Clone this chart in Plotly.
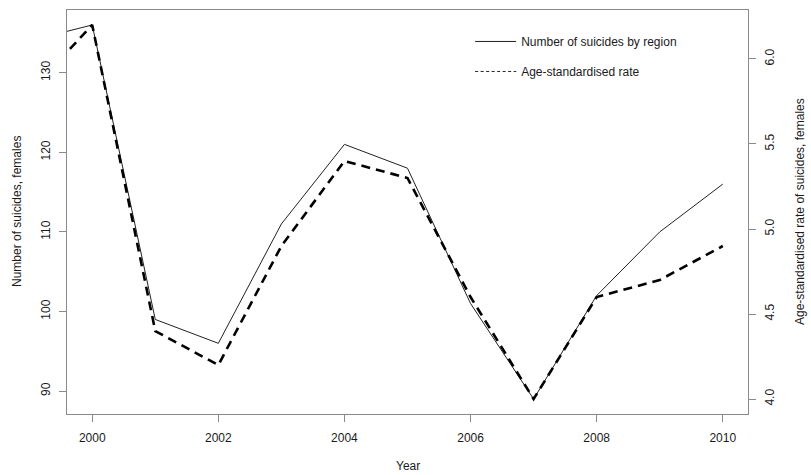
import plotly.graph_objects as go

years = [1999, 2000, 2001, 2002, 2003, 2004, 2005, 2006, 2007, 2008, 2009, 2010]
suicides = [134, 136, 99, 96, 111, 121, 118, 101, 89, 102, 110, 116]
rates = [5.8, 6.2, 4.4, 4.2, 4.9, 5.4, 5.3, 4.6, 4.0, 4.6, 4.7, 4.9]

x_ticks = [2000, 2002, 2004, 2006, 2008, 2010]
left_ticks = [90, 100, 110, 120, 130]
right_ticks = [4.0, 4.5, 5.0, 5.5, 6.0]

legend_names = ["Number of suicides by region", "Age-standardised rate"]


def r_range(lo, hi):
    pad = 0.04 * (hi - lo)
    return [lo - pad, hi + pad]


FONT = "Liberation Sans, Arial, sans-serif"
TXT = "#1a1a1a"
AX = "#8a8a8a"

fig = go.Figure()
fig.add_trace(go.Scatter(x=years, y=suicides, mode="lines", yaxis="y",
                         line=dict(color="#222222", width=1), showlegend=False,
                         hoverinfo="skip"))
fig.add_trace(go.Scatter(x=years, y=rates, mode="lines", yaxis="y2",
                         line=dict(color="#000000", width=2.6, dash="9px,6px"),
                         showlegend=False, hoverinfo="skip"))
# legend entries (thin styles as in the reference legend)
fig.add_trace(go.Scatter(x=[None], y=[None], mode="lines", name=legend_names[0],
                         line=dict(color="#222222", width=1), legendgroup="a"))
fig.add_trace(go.Scatter(x=[None], y=[None], mode="lines", name=legend_names[1],
                         line=dict(color="#222222", width=1, dash="3px,2.5px"),
                         legendgroup="b"))

fig.update_layout(
    template="none",
    width=811, height=475,
    margin=dict(l=67, r=63, t=10, b=61, autoexpand=False),
    paper_bgcolor="white", plot_bgcolor="white",
    font=dict(family=FONT, size=12, color=TXT),
    showlegend=True,
    legend=dict(x=0.592, y=0.958, xanchor="left", yanchor="top",
                bgcolor="rgba(0,0,0,0)", borderwidth=0, itemwidth=41,
                tracegroupgap=11,
                font=dict(family=FONT, size=12, color=TXT)),
    xaxis=dict(range=[1999.6, 2010.4], tickvals=x_ticks, showgrid=False,
               automargin=False,
               zeroline=False, showline=True, linecolor=AX, linewidth=1,
               mirror=True, ticks="outside", ticklen=7, tickcolor=AX,
               ticklabelstandoff=6, tickfont=dict(size=12, color=TXT)),
    yaxis=dict(range=r_range(min(suicides), max(suicides)), tickvals=left_ticks,
               automargin=False,
               showgrid=False, zeroline=False, showline=True, linecolor=AX,
               linewidth=1, mirror=True, ticks="outside", ticklen=7,
               tickcolor=AX, tickangle=-90, ticklabelstandoff=4,
               tickfont=dict(size=12, color=TXT)),
    yaxis2=dict(range=r_range(min(rates), max(rates)), tickvals=right_ticks,
                automargin=False,
                tickformat=".1f", overlaying="y", side="right",
                showgrid=False, zeroline=False, showline=False,
                ticks="outside", ticklen=7, tickcolor=AX, tickangle=-90,
                ticklabelstandoff=4, tickfont=dict(size=12, color=TXT)),
    annotations=[
        dict(text="Year", xref="paper", yref="paper", x=0.5, y=-0.1287,
             xanchor="center", yanchor="middle", showarrow=False,
             font=dict(size=12, color=TXT)),
        dict(text="Number of suicides, females", xref="paper", yref="paper",
             x=-0.0734, y=0.5, xanchor="center", yanchor="middle",
             textangle=-90, showarrow=False, font=dict(size=12, color=TXT)),
        dict(text="Age-standardised rate of suicides, females", xref="paper",
             yref="paper", x=1.0764, y=0.5, xanchor="center",
             yanchor="middle", textangle=-90, showarrow=False,
             font=dict(size=12, color=TXT)),
    ],
)

fig.write_html("out.html",
               config={"displayModeBar": False},
               post_script="document.body.style.margin='0';"
                           "document.body.style.overflow='hidden';")
